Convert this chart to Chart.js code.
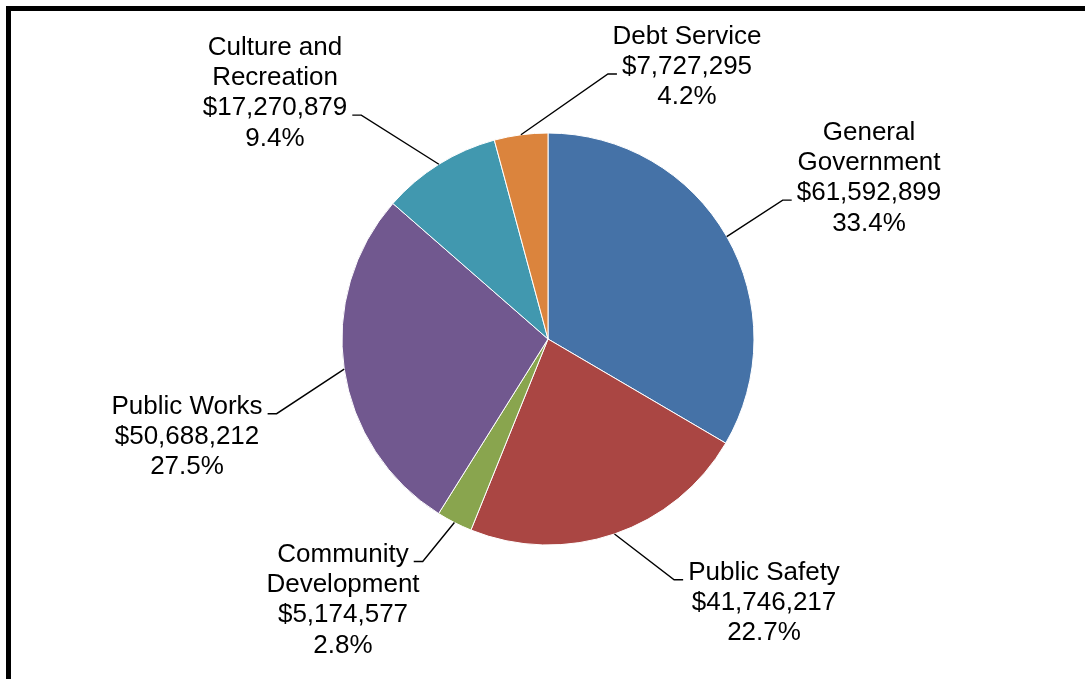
<!DOCTYPE html>
<html>
<head>
<meta charset="utf-8">
<script src="https://cdn.jsdelivr.net/npm/chart.js@4.4.1/dist/chart.umd.min.js"></script>
<style>
    html, body { margin: 0; padding: 0; background: #fff; }
    #wrap { width: 1085px; height: 679px; position: relative; }
</style>
</head>
<body>
<div id="wrap"><canvas id="expenseChart"></canvas></div>
<script>
// spending by function, clockwise from 12 o'clock
const categories = [
    ["General", "Government"],
    ["Public Safety"],
    ["Community", "Development"],
    ["Public Works"],
    ["Culture and", "Recreation"],
    ["Debt Service"]
];
const amounts = [61592899, 41746217, 5174577, 50688212, 17270879, 7727295];
const sliceColors = ["#4572A7", "#AA4643", "#89A54E", "#71588F", "#4198AF", "#DB843D"];

// where each callout sits relative to the pie centre, and which text row the leader meets
const calloutSpots = [
    {dx: 321, dy: -161, row: 2, side: "left"},
    {dx: 216, dy: 264, row: 0, side: "left"},
    {dx: -205, dy: 261, row: 0, side: "right"},
    {dx: -361, dy: 98, row: 0, side: "right"},
    {dx: -273, dy: -246, row: 2, side: "right"},
    {dx: 139, dy: -272, row: 1, side: "left"}
];

const total = amounts.reduce((a, b) => a + b, 0);
const FONT = "26px 'Liberation Sans', Arial, sans-serif";
const LINE_H = 30.3;

// thick frame round the chart, open on the right and bottom
const framePlugin = {
    id: "frame",
    beforeDraw(chart) {
        const ctx = chart.ctx;
        ctx.save();
        ctx.strokeStyle = "#000";
        ctx.lineWidth = 5;
        ctx.strokeRect(8.5, 8.5, chart.width + 40, chart.height + 40);
        ctx.restore();
    }
};

// stacked name / amount / share labels with elbow leader lines
const calloutPlugin = {
    id: "callouts",
    afterDatasetsDraw(chart) {
        const ctx = chart.ctx;
        const arcs = chart.getDatasetMeta(0).data;
        ctx.save();
        ctx.font = FONT;
        ctx.fillStyle = "#000";
        ctx.textAlign = "center";
        ctx.textBaseline = "middle";

        arcs.forEach((arc, i) => {
            const {x, y, startAngle, endAngle, outerRadius} = arc.getProps(["x", "y", "startAngle", "endAngle", "outerRadius"], true);
            const mid = (startAngle + endAngle) / 2;
            const spot = calloutSpots[i];
            const lines = [
                ...categories[i],
                "$" + amounts[i].toLocaleString("en-US"),
                (amounts[i] / total * 100).toFixed(1) + "%"
            ];
            const cx = x + spot.dx;
            const top = y + spot.dy - (lines.length - 1) * LINE_H / 2;

            lines.forEach((t, k) => ctx.fillText(t, cx, top + k * LINE_H));

            // leader: slice edge -> elbow -> short run to the text
            const rowW = ctx.measureText(lines[spot.row]).width;
            const ly = top + spot.row * LINE_H + 7;
            const dir = spot.side === "left" ? -1 : 1;
            const endX = cx + dir * (rowW / 2 + 5);
            const elbowX = endX + dir * 9;
            ctx.beginPath();
            ctx.moveTo(x + Math.cos(mid) * outerRadius, y + Math.sin(mid) * outerRadius);
            ctx.lineTo(elbowX, ly);
            ctx.lineTo(endX, ly);
            ctx.strokeStyle = "#000";
            ctx.lineWidth = 1.4;
            ctx.stroke();
        });
        ctx.restore();
    }
};

new Chart(document.getElementById("expenseChart").getContext("2d"), {
    type: "pie",
    data: {
        labels: categories,
        datasets: [{
            data: amounts,
            backgroundColor: sliceColors,
            borderColor: "#ffffff",
            borderWidth: 1
        }]
    },
    options: {
        responsive: true,
        maintainAspectRatio: false,
        animation: false,
        radius: 206,
        layout: {padding: {left: 111, right: 100, top: 100, bottom: 101}},
        plugins: {
            legend: {display: false},
            tooltip: {enabled: false}
        }
    },
    plugins: [framePlugin, calloutPlugin]
});
</script>
</body>
</html>
